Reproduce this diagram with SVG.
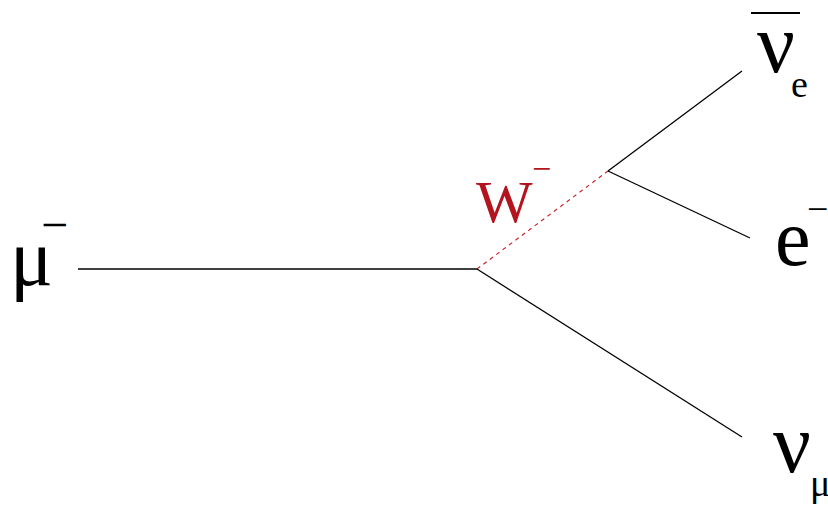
<svg xmlns="http://www.w3.org/2000/svg" width="828" height="506" viewBox="0 0 828 506">
<style>
.lbl{font-family:'Liberation Serif','Times New Roman',serif;fill:#000}
.w{fill:#b4141e}
.ln{stroke:#000;stroke-width:1.3;fill:none}
.dash{stroke:#c8282d;stroke-width:1.2;stroke-dasharray:4 4;fill:none}
</style>
<rect width="828" height="506" fill="#fff"/>
<g id="connectors">
<line class="ln" x1="78" y1="269" x2="477" y2="269"/>
<line class="dash" x1="477" y1="269" x2="608" y2="171"/>
<line class="ln" x1="608" y1="171" x2="742" y2="71"/>
<line class="ln" x1="608" y1="171" x2="750" y2="238"/>
<line class="ln" x1="477" y1="269" x2="742" y2="437"/>
</g>
<g id="muon">
<text class="lbl" font-family="Liberation Serif" x="10" y="285" font-size="80">μ<tspan x="41" y="241" font-size="48">−</tspan></text>
</g>
<g id="W">
<text class="lbl w" font-family="Liberation Serif" x="476" y="222" font-size="60">W<tspan x="532" y="180" font-size="34">−</tspan></text>
</g>
<g id="nue">
<line stroke="#000" stroke-width="2" x1="751" y1="13" x2="800" y2="13"/>
<text class="lbl" font-family="Liberation Serif" x="757" y="72" font-size="84">ν<tspan x="791" y="97" font-size="38">e</tspan></text>
</g>
<g id="electron">
<text class="lbl" font-family="Liberation Serif" x="775" y="265" font-size="80">e<tspan x="807" y="222" font-size="38">−</tspan></text>
</g>
<g id="numu">
<text class="lbl" font-family="Liberation Serif" x="773" y="472" font-size="84">ν<tspan x="810" y="496" font-size="38">μ</tspan></text>
</g>
</svg>
